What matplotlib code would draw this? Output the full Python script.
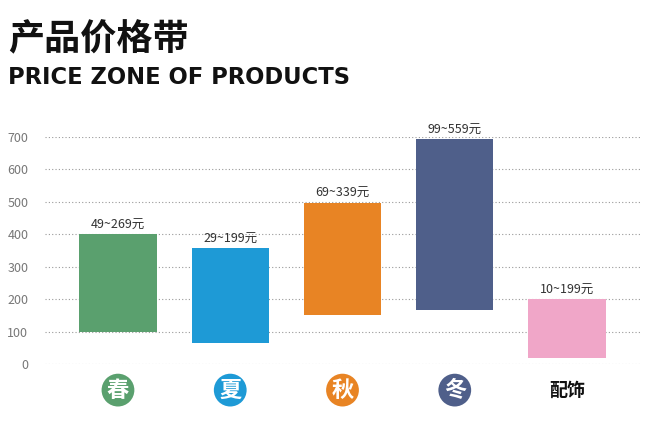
import matplotlib
matplotlib.use('Agg')
import matplotlib.pyplot as plt
import matplotlib.transforms as mtransforms

plt.rcParams['font.family'] = ['Noto Sans CJK SC', 'DejaVu Sans']

seasons = ['春', '夏', '秋', '冬', '配饰']
low = [100, 65, 150, 165, 20]
high = [400, 357, 498, 694, 200]
labels = ['49~269元', '29~199元', '69~339元', '99~559元', '10~199元']
colors = ['#5aa06e', '#1e9ad6', '#e88424', '#4f5f8a', '#f0a6c8']
yticks = [0, 100, 200, 300, 400, 500, 600, 700]

fig = plt.figure(figsize=(6.51, 4.21), dpi=100)
ax = fig.add_axes([45 / 651, 57 / 421, 595 / 651, 227 / 421])

x = list(range(len(seasons)))
heights = [h - l for h, l in zip(high, low)]
ax.bar(x, heights, bottom=low, width=0.69, color=colors, zorder=3)
for i, (h, t) in enumerate(zip(high, labels)):
    ax.text(i, h + 8, t, ha='center', va='bottom', fontsize=9, color='#333333', clip_on=False)

ax.set_xlim(-0.65, 4.65)
ax.set_ylim(0, 700)
ax.set_yticks(yticks)
ax.tick_params(axis='y', length=0, labelsize=9, labelcolor='#777777', pad=12)
ax.set_xticks([])
ax.grid(axis='y', linestyle=(0, (1, 2)), color='#999999', linewidth=0.8, zorder=0)
for s in ax.spines.values():
    s.set_visible(False)

trans = mtransforms.blended_transform_factory(ax.transData, ax.transAxes)
for i, (s, c) in enumerate(zip(seasons, colors)):
    if i < 4:
        ax.text(i, -0.115, s, transform=trans, ha='center', va='center', fontsize=16,
                fontweight='bold', color='white',
                bbox=dict(boxstyle='circle,pad=0.22', fc=c, ec='none'))
    else:
        ax.text(i, -0.115, s, transform=trans, ha='center', va='center', fontsize=13,
                fontweight='bold', color='#111111')

fig.text(8 / 651, 1 - 40 / 421, '产品价格带', fontsize=26, fontweight='bold', va='center', color='#111111')
fig.text(8 / 651, 1 - 78 / 421, 'PRICE ZONE OF PRODUCTS', fontsize=16.3, fontweight='bold',
         va='center', color='#111111', family=['DejaVu Sans'])

fig.savefig('out.png', dpi=100)
